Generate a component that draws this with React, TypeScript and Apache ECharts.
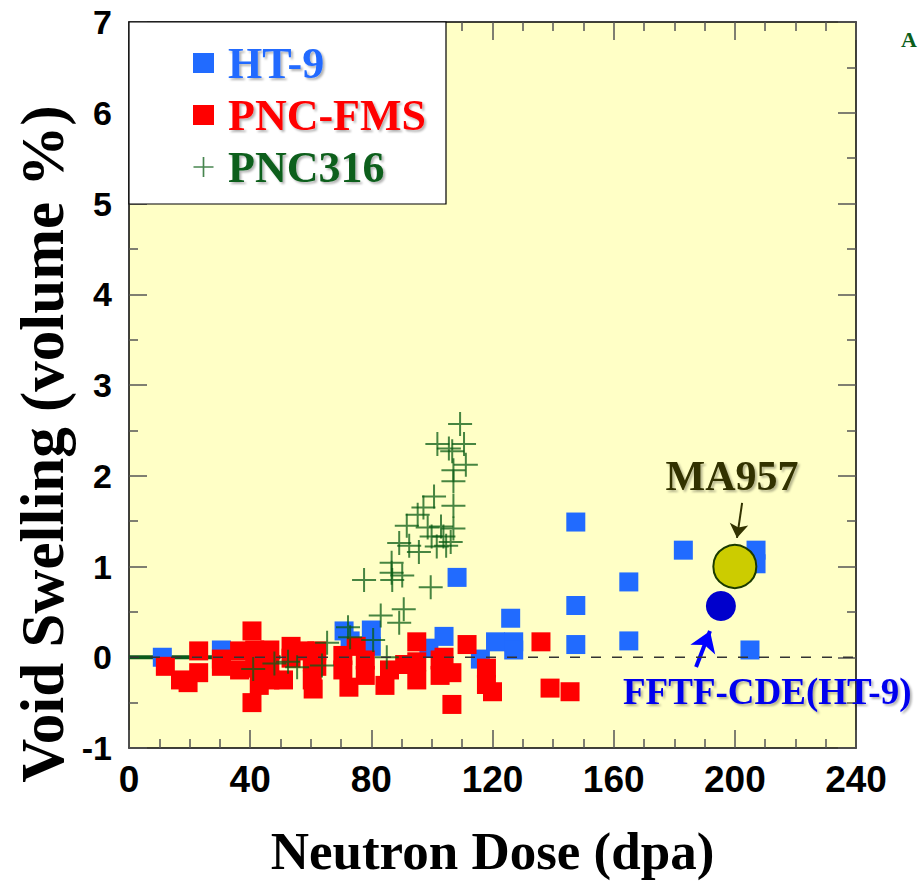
import React, { useEffect, useRef } from "react";
import * as echarts from "echarts";

// ---- data (dose in dpa, swelling in volume %) ----
const ht9Points: [number, number][] = [
  [11, 0.0], [30.5, 0.08], [44, 0.05], [71, 0.29], [73, 0.18], [80, 0.3], [80, 0.12],
  [99, 0.1], [104, 0.23], [108.3, 0.88], [116, -0.02], [121, 0.17], [126, 0.43],
  [127, 0.17], [127, 0.08], [147.5, 1.49], [147.5, 0.57], [147.5, 0.14], [165, 0.83],
  [165, 0.18], [183, 1.18], [207, 1.18], [207, 1.03], [205, 0.08],
];

const pncFmsPoints: [number, number][] = [
  [12, -0.1], [17, -0.25], [19.5, -0.28], [23, 0.07], [23, -0.17], [30.5, -0.02],
  [30.5, -0.1], [36.5, 0.07], [36.5, -0.14], [40.6, 0.29], [41.5, 0.08], [41.5, -0.12],
  [46.5, 0.08], [46.5, -0.08], [43, -0.31], [40.6, -0.5], [46.5, -0.25], [51, -0.25],
  [53.5, 0.12], [53.5, -0.01], [58, 0.07], [60.5, -0.05], [60.5, -0.25], [60.8, -0.35],
  [62, 0.07], [62, -0.1], [70.6, 0.02], [70.6, -0.14], [72.6, -0.33], [75, 0.12],
  [78, -0.03], [78, -0.2], [84.5, -0.31], [86, -0.14], [91, -0.08], [95, 0.17],
  [95, -0.05], [95, -0.25], [102.7, -0.03], [102.7, -0.2], [104, 0.0], [106.6, -0.52],
  [106.6, -0.17], [111.6, 0.14], [118, -0.12], [118, -0.3], [120, -0.38], [136, 0.17],
  [139, -0.34], [145.6, -0.38],
];

const pnc316Points: [number, number][] = [
  [41, -0.13], [48, -0.07], [52.5, -0.05], [55.5, -0.11], [63.7, -0.09], [65.4, 0.16],
  [72.3, 0.33], [73, 0.22], [80.6, 0.19], [85.1, 0.0], [83.1, 0.46], [89.2, 0.38],
  [90.7, 0.53], [77.6, 0.85], [86.7, 1.04], [86.7, 0.93], [86.9, 0.85], [90.2, 0.9],
  [89.2, 1.26], [92.5, 1.23], [95.7, 1.16], [91.7, 1.45], [95.3, 1.57], [97.2, 1.65],
  [100.7, 1.77], [98.6, 1.43], [99.9, 1.33], [101.6, 1.22], [103, 1.44], [103.8, 1.33],
  [104.7, 1.23], [106.2, 1.27], [107.1, 1.42], [107.1, 1.67], [107.1, 1.94], [107.1, 2.06],
  [111.2, 2.12], [101.8, 2.35], [105.6, 2.3], [106.7, 2.27], [110.6, 2.35], [109.3, 2.57],
  [99.6, 0.77],
];

// PNC316 low-dose points lying on zero (drawn as a heavy band)
const pnc316ZeroBand: [number, number][] = [[0, 0], [50, 0]];

const ma957Point: [number, number][] = [[200, 1.0]];
const fftfPoint: [number, number][] = [[195.4, 0.565]];

// annotation arrows (data coordinates: start, end)
const ma957Arrow: [number, number][] = [[202.4, 1.7], [200.7, 1.315]];
const fftfArrow: [number, number][] = [[187.2, -0.107], [191.8, 0.29]];

const zeroLine: [number, number][] = [[0, 0], [240, 0]];

const xMin = 0, xMax = 240, xStep = 40;
const yMin = -1, yMax = 7, yStep = 1;

const seriesNames = ["HT-9", "PNC-FMS", "PNC316"];
const seriesColors = ["#216BFF", "#FF0000", "#0A5C14"];
const legendTextColors = ["#216BFF", "#FF0000", "#0B5E1B"];

const plusPath = "path://M0,11H24V13H0Z M11,0H13V24H11Z";

export default function App() {
  const ref = useRef<HTMLDivElement>(null);

  useEffect(() => {
    if (!ref.current) return;
    const chart = echarts.init(ref.current, undefined, { renderer: "svg" });

    const tickCommon = {
      axisLine: { show: true, onZero: false, lineStyle: { color: "#000", width: 1.5 } },
      axisTick: { show: true, inside: true, length: 18, lineStyle: { color: "#555", width: 1.5 } },
      minorTick: { show: true, length: 9, lineStyle: { color: "#555", width: 1.5 } },
      splitLine: { show: false },
      minorSplitLine: { show: false },
    };

    const shadow = {
      textShadowColor: "rgba(0,0,0,0.3)",
      textShadowOffsetX: 2,
      textShadowOffsetY: 2,
      textShadowBlur: 2,
    };

    chart.setOption({
      animation: false,
      grid: {
        left: 129, right: 63, top: 22, bottom: 136,
        show: true, backgroundColor: "#FFFFC6", borderWidth: 0,
      },
      xAxis: [
        {
          type: "value", min: xMin, max: xMax, interval: xStep, position: "bottom",
          ...tickCommon,
          minorTick: { ...tickCommon.minorTick, splitNumber: 4 },
          axisLabel: {
            margin: 13, color: "#000", fontSize: 37, fontWeight: "bold",
            fontFamily: "'Liberation Sans Narrow', 'Liberation Sans', Arial, sans-serif",
          },
          name: "Neutron Dose (dpa)", nameLocation: "middle", nameGap: 76,
          nameTextStyle: { fontSize: 53, fontWeight: "bold", fontFamily: "'Liberation Serif', 'Times New Roman', serif", color: "#000" },
        },
        {
          type: "value", min: xMin, max: xMax, interval: xStep, position: "top",
          ...tickCommon,
          minorTick: { ...tickCommon.minorTick, splitNumber: 4 },
          axisLabel: { show: false },
        },
      ],
      yAxis: [
        {
          type: "value", min: yMin, max: yMax, interval: yStep, position: "left",
          ...tickCommon,
          minorTick: { ...tickCommon.minorTick, splitNumber: 2 },
          axisLabel: {
            margin: 17, color: "#000", fontSize: 34, fontWeight: "bold",
            fontFamily: "'Liberation Sans', Arial, sans-serif",
          },
        },
        {
          type: "value", min: yMin, max: yMax, interval: yStep, position: "right",
          ...tickCommon,
          minorTick: { ...tickCommon.minorTick, splitNumber: 2 },
          axisLabel: { show: false },
        },
      ],
      legend: {
        orient: "vertical", left: 188, top: 36, z: 10,
        itemWidth: 21, itemHeight: 20, itemGap: 8,
        selectedMode: false,
        textStyle: {
          fontSize: 44, lineHeight: 44, fontWeight: "bold",
          fontFamily: "'Liberation Serif', 'Times New Roman', serif",
          padding: [0, 0, 0, 9], ...shadow,
        },
        data: seriesNames.map((n, i) => ({ name: n, textStyle: { color: legendTextColors[i] } })),
      },
      graphic: [
        {
          type: "rect", z: 9, silent: true,
          shape: { x: 129, y: 22, width: 317, height: 182 },
          style: { fill: "#FFFFFF", stroke: "#000", lineWidth: 1.2 },
        },
        {
          type: "text", z: 20, silent: true, x: 732, y: 476,
          style: {
            text: "MA957", fill: "#333300", fontSize: 42, fontWeight: "bold",
            fontFamily: "'Liberation Serif', 'Times New Roman', serif",
            align: "center", verticalAlign: "middle", textAlign: "center", textVerticalAlign: "middle",
            ...shadow,
          },
        },
        {
          type: "text", z: 20, silent: true, x: 623, y: 691,
          style: {
            text: "FFTF-CDE(HT-9)", fill: "#0000EE", fontSize: 37, fontWeight: "bold",
            fontFamily: "'Liberation Serif', 'Times New Roman', serif",
            align: "left", verticalAlign: "middle", textAlign: "left", textVerticalAlign: "middle",
            ...shadow,
          },
        },
        {
          type: "text", z: 20, silent: true, x: 42, y: 444, rotation: Math.PI / 2,
          style: {
            text: "Void Swelling (volume %)", fill: "#000", fontSize: 61, fontWeight: "bold",
            fontFamily: "'Liberation Serif', 'Times New Roman', serif",
            align: "center", verticalAlign: "middle", textAlign: "center", textVerticalAlign: "middle",
          },
        },
        {
          type: "text", z: 20, silent: true, x: 901, y: 50,
          style: {
            text: "A", fill: "#0B5E1B", fontSize: 22, fontWeight: "bold",
            fontFamily: "'Liberation Serif', serif",
            align: "left", verticalAlign: "bottom", textAlign: "left", textVerticalAlign: "bottom",
          },
        },
      ],
      series: [
        {
          name: "PNC316 zero", type: "line", data: pnc316ZeroBand, symbol: "none", z: 1, silent: true,
          lineStyle: { color: "#0B5A1B", width: 4 },
        },
        {
          name: seriesNames[0], type: "scatter", data: ht9Points, symbol: "rect", symbolSize: 19, z: 2,
          itemStyle: { color: seriesColors[0], opacity: 1 },
        },
        {
          name: seriesNames[1], type: "scatter", data: pncFmsPoints, symbol: "rect", symbolSize: 19, z: 3,
          itemStyle: { color: seriesColors[1], opacity: 1 },
        },
        {
          name: seriesNames[2], type: "scatter", data: pnc316Points, symbol: plusPath, symbolSize: 24, z: 4,
          itemStyle: { color: seriesColors[2], opacity: 0.75 },
        },
        {
          name: "MA957", type: "scatter", data: ma957Point, symbol: "circle", symbolSize: 43, z: 5,
          itemStyle: { color: "#CCCC00", borderColor: "#1A3A00", borderWidth: 2, opacity: 1 },
          markLine: {
            silent: true, symbol: ["none", "arrow"], symbolSize: 14, label: { show: false },
            lineStyle: { color: "#333300", width: 2, type: "solid" },
            data: [[{ coord: ma957Arrow[0] }, { coord: ma957Arrow[1] }]],
          },
        },
        {
          name: "FFTF-CDE(HT-9)", type: "scatter", data: fftfPoint, symbol: "circle", symbolSize: 30, z: 5,
          itemStyle: { color: "#0000CC", opacity: 1 },
          markLine: {
            silent: true, symbol: ["none", "arrow"], symbolSize: 20, label: { show: false },
            lineStyle: { color: "#0000FF", width: 4, type: "solid" },
            data: [[{ coord: fftfArrow[0] }, { coord: fftfArrow[1] }]],
          },
        },
        {
          name: "zero", type: "line", data: zeroLine, symbol: "none", z: 6, silent: true,
          lineStyle: { color: "#333", width: 1.5, type: [10, 11] },
        },
      ],
    });

    return () => chart.dispose();
  }, []);

  return (
    <div
      ref={ref}
      style={{ position: "fixed", left: 0, top: 0, width: 919, height: 884, background: "#fff" }}
    />
  );
}
